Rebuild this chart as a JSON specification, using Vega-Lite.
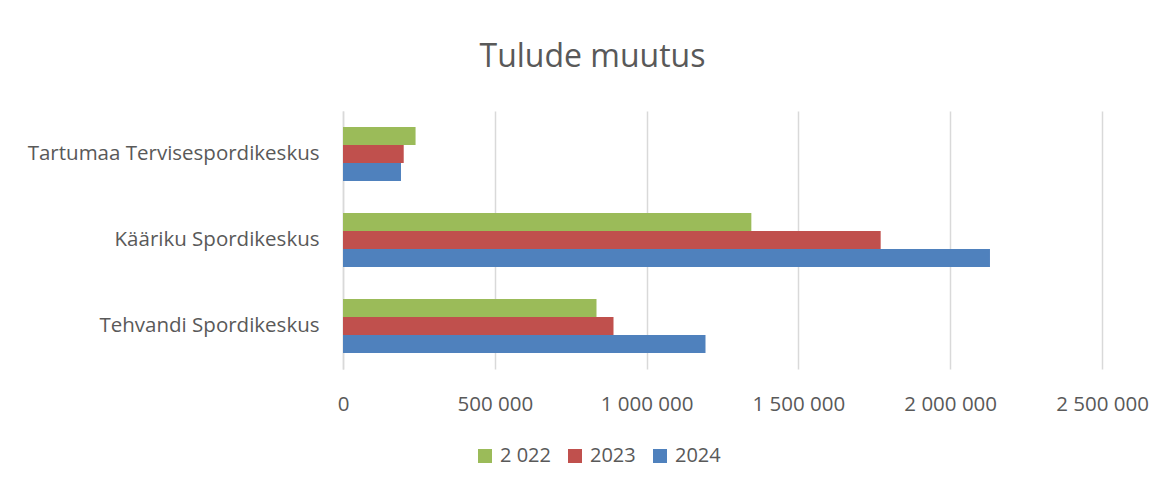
{
  "$schema": "https://vega.github.io/schema/vega-lite/v6.json",
  "width": 759,
  "height": 258,
  "autosize": {"type": "none"},
  "padding": {"left": 343, "top": 111, "right": 67, "bottom": 117},
  "background": "white",
  "title": {
    "text": "Tulude muutus",
    "anchor": "middle",
    "dx": -130,
    "offset": 12,
    "baseline": "alphabetic",
    "font": "Open Sans",
    "fontSize": 32,
    "fontWeight": "normal",
    "color": "#595959"
  },
  "config": {
    "locale": {"number": {"decimal": ",", "thousands": " ", "grouping": [3], "currency": ["", " €"]}},
    "view": {"stroke": null},
    "font": "Open Sans"
  },
  "data": {
    "values": [
      {"keskus": "Tartumaa Tervisespordikeskus", "aasta": "2 022", "tulu": 239000},
      {"keskus": "Tartumaa Tervisespordikeskus", "aasta": "2023", "tulu": 200000},
      {"keskus": "Tartumaa Tervisespordikeskus", "aasta": "2024", "tulu": 191000},
      {"keskus": "Kääriku Spordikeskus", "aasta": "2 022", "tulu": 1345000},
      {"keskus": "Kääriku Spordikeskus", "aasta": "2023", "tulu": 1771000},
      {"keskus": "Kääriku Spordikeskus", "aasta": "2024", "tulu": 2131000},
      {"keskus": "Tehvandi Spordikeskus", "aasta": "2 022", "tulu": 835000},
      {"keskus": "Tehvandi Spordikeskus", "aasta": "2023", "tulu": 891000},
      {"keskus": "Tehvandi Spordikeskus", "aasta": "2024", "tulu": 1194000}
    ]
  },
  "mark": {"type": "bar"},
  "encoding": {
    "y": {
      "field": "keskus",
      "type": "nominal",
      "sort": ["Tartumaa Tervisespordikeskus", "Kääriku Spordikeskus", "Tehvandi Spordikeskus"],
      "scale": {"paddingInner": 0.372, "paddingOuter": 0.186},
      "axis": {
        "title": null,
        "ticks": false,
        "domain": true,
        "domainColor": "#D9D9D9",
        "domainWidth": 1.5,
        "labelPadding": 24,
        "labelFont": "Open Sans",
        "labelFontSize": 20.5,
        "labelColor": "#595959",
        "labelLimit": 400
      }
    },
    "yOffset": {
      "field": "aasta",
      "type": "nominal",
      "sort": ["2 022", "2023", "2024"],
      "scale": {"paddingInner": 0, "paddingOuter": 0}
    },
    "x": {
      "field": "tulu",
      "type": "quantitative",
      "scale": {"domain": [0, 2500000], "nice": false},
      "axis": {
        "title": null,
        "values": [0, 500000, 1000000, 1500000, 2000000, 2500000],
        "format": ",d",
        "domain": false,
        "ticks": false,
        "grid": true,
        "gridColor": "#D9D9D9",
        "gridWidth": 1.5,
        "labelFlush": false,
        "labelPadding": 35,
        "labelFont": "Open Sans",
        "labelFontSize": 20.5,
        "labelColor": "#595959",
        "labelBaseline": "middle"
      }
    },
    "color": {
      "field": "aasta",
      "type": "nominal",
      "sort": ["2 022", "2023", "2024"],
      "scale": {"domain": ["2 022", "2023", "2024"], "range": ["#9BBB59", "#C0504D", "#4F81BD"]},
      "legend": {
        "title": null,
        "orient": "none",
        "direction": "horizontal",
        "legendX": 132,
        "legendY": 335,
        "symbolType": "square",
        "symbolSize": 196,
        "symbolStrokeWidth": 0,
        "symbolOpacity": 1,
        "labelFont": "Open Sans",
        "labelFontSize": 20,
        "labelColor": "#595959",
        "labelOffset": 5,
        "columnPadding": 14
      }
    }
  }
}
